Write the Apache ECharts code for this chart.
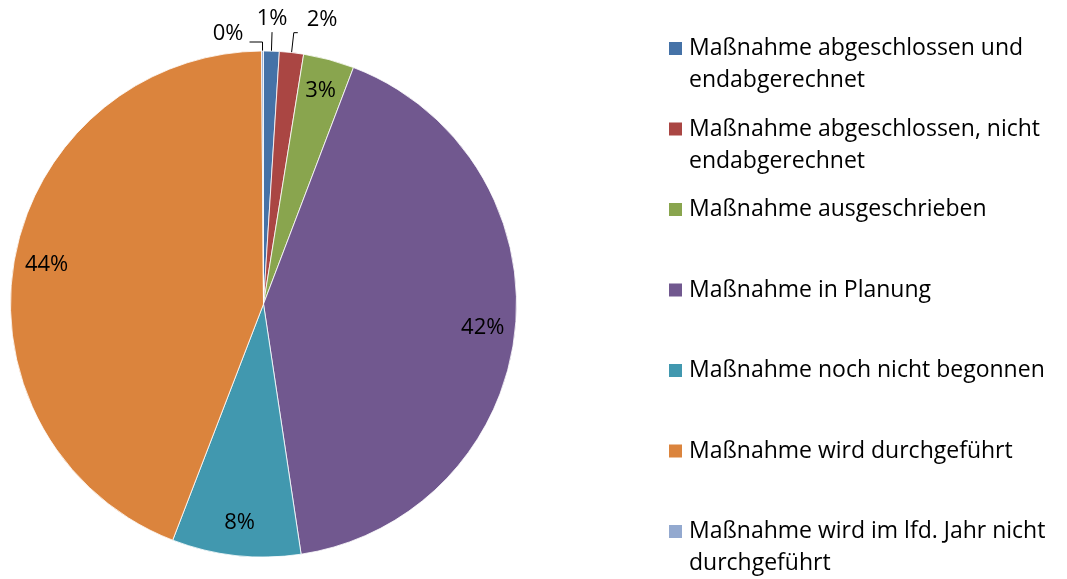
<!DOCTYPE html>
<html><head><meta charset="utf-8">
<script src="https://cdn.jsdelivr.net/npm/echarts@6/dist/echarts.min.js"></script>
<style>html,body{margin:0;padding:0;background:#fff}#c{width:1067px;height:579px}</style>
</head><body><div id="c"></div>
<script>
const categories = [
  'Maßnahme abgeschlossen und endabgerechnet',
  'Maßnahme abgeschlossen, nicht endabgerechnet',
  'Maßnahme ausgeschrieben',
  'Maßnahme in Planung',
  'Maßnahme noch nicht begonnen',
  'Maßnahme wird durchgeführt',
  'Maßnahme wird im lfd. Jahr nicht durchgeführt'
];
const legendLabels = [
  'Maßnahme abgeschlossen und\nendabgerechnet',
  'Maßnahme abgeschlossen, nicht\nendabgerechnet',
  'Maßnahme ausgeschrieben\n ',
  'Maßnahme in Planung\n ',
  'Maßnahme noch nicht begonnen\n ',
  'Maßnahme wird durchgeführt\n ',
  'Maßnahme wird im lfd. Jahr nicht\ndurchgeführt'
];
const values = [1.0, 1.54, 3.25, 41.86, 8.22, 44.06, 0.12];
const palette = ['#4572A7', '#AA4643', '#89A54E', '#71588F', '#4198AF', '#DB843D', '#93A9CF'];
const outsideLabelIdx = [0, 1, 6];

const FONT = 'Open Sans';
const R = 253;
const pct = p => Math.round(p.percent) + '%';
const lineCfg = {
  0: {length: 19, length2: 0},
  1: {length: 20, length2: 4},
  6: {length: 9, length2: 13}
};
const outLabelCfg = {
  0: {distanceToLabelLine: 0, lineHeight: 26},
  1: {distanceToLabelLine: 9, lineHeight: 26},
  6: {distanceToLabelLine: 6, lineHeight: 16}
};
const alignCfg = {
  0: {align: 'center', verticalAlign: 'bottom'},
  1: {verticalAlign: 'bottom'},
  6: {verticalAlign: 'bottom'}
};

const chart = echarts.init(document.getElementById('c'), null, {renderer: 'canvas'});
chart.setOption({
  animation: false,
  color: palette,
  legend: {
    orient: 'vertical',
    left: 669,
    top: 32.5,
    height: 560,
    padding: 0,
    itemWidth: 13,
    itemHeight: 64,
    itemGap: 16.5,
    icon: 'path://M0,0h0.01v0.01h-0.01z M0,9.5h13v13h-13z M0,63.99h0.01v0.01h-0.01z',
    itemStyle: {borderWidth: 0},
    selectedMode: false,
    data: categories,
    formatter: name => legendLabels[categories.indexOf(name)],
    textStyle: {fontFamily: FONT, fontSize: 23, color: '#000', lineHeight: 32, padding: [0, 0, 0, 2]}
  },
  series: [
    {
      type: 'pie',
      center: [263.5, 304],
      radius: R,
      startAngle: 90,
      clockwise: true,
      avoidLabelOverlap: false,
      itemStyle: {borderColor: '#fff', borderWidth: 0.8},
      emphasis: {disabled: true},
      label: {show: false},
      labelLine: {show: false},
      labelLayout: p => alignCfg[p.dataIndex] || {},
      data: categories.map((n, i) => {
        const out = outsideLabelIdx.includes(i);
        return {
          name: n,
          value: values[i],
          label: out ? Object.assign({show: true, position: 'outside', formatter: pct, fontFamily: FONT, fontSize: 22, color: '#000'}, outLabelCfg[i]) : {show: false},
          labelLine: out ? Object.assign({show: true, lineStyle: {color: '#000', width: 1}}, lineCfg[i]) : {show: false}
        };
      })
    },
    {
      type: 'pie',
      center: [263.5, 304],
      radius: [182, R],
      startAngle: 90,
      clockwise: true,
      silent: true,
      avoidLabelOverlap: false,
      itemStyle: {color: 'rgba(0,0,0,0)', borderWidth: 0},
      emphasis: {disabled: true},
      labelLine: {show: false},
      label: {show: false},
      data: categories.map((n, i) => ({
        name: n,
        value: values[i],
        label: outsideLabelIdx.includes(i) ? {show: false} :
          {show: true, position: 'inside', formatter: pct, fontFamily: FONT, fontSize: 22, color: '#000'}
      }))
    }
  ]
});
</script>
</body></html>
